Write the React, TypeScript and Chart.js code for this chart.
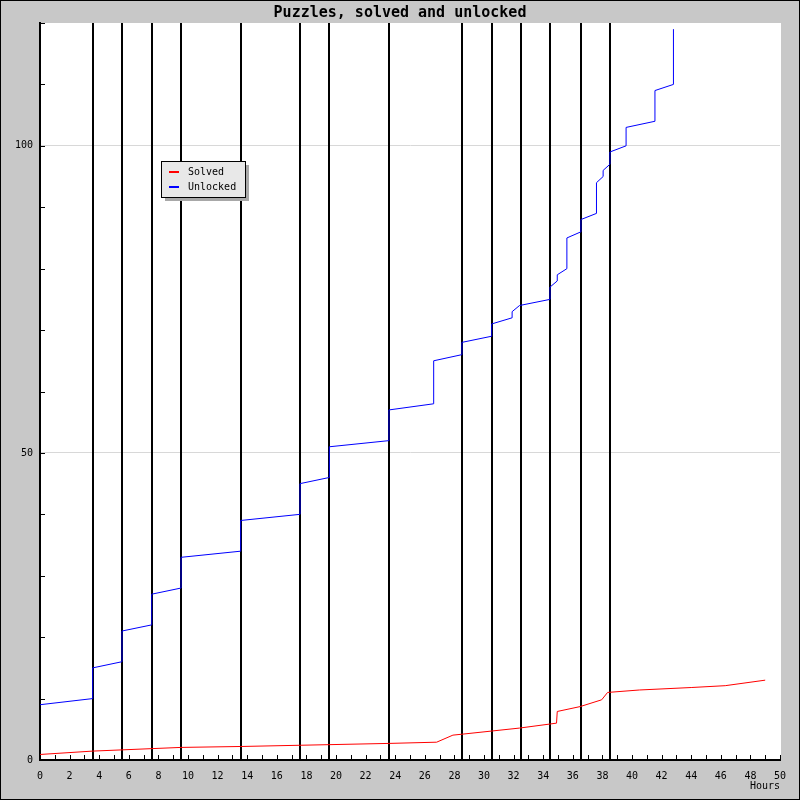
import React, { useEffect, useRef } from 'react';
import { Chart, registerables } from 'chart.js';

Chart.register(...registerables);

const chartTitle = 'Puzzles, solved and unlocked';
const xAxisTitle = 'Hours';
const seriesLabels = ['Solved', 'Unlocked'];
const seriesColors = ['#ff0000', '#0000ff'];

const solvedHours = [0, 3.56, 9.53, 13.56, 23.58, 26.8, 27.9, 28.51, 32.4, 34.9, 34.95, 36.5, 37.95, 38.35, 40.5, 44, 46.3, 49];
const solvedCounts = [0.9, 1.45, 2.05, 2.2, 2.7, 2.9, 4.05, 4.2, 5.2, 6.0, 7.9, 8.7, 9.8, 11.0, 11.4, 11.8, 12.1, 13.0];

const unlockedHours = [0, 3.56, 3.56, 5.54, 5.54, 7.55, 7.55, 9.53, 9.53, 13.56, 13.56, 17.57, 17.57, 19.55, 19.55, 23.58, 23.58, 26.6, 26.6, 28.51, 28.51, 30.52, 30.52, 31.9, 31.9, 32.4, 34.46, 34.46, 34.95, 34.95, 35.6, 35.6, 36.55, 36.55, 37.6, 37.6, 38.05, 38.05, 38.51, 38.51, 39.6, 39.6, 41.55, 41.55, 42.8, 42.8];
const unlockedCounts = [9, 10, 15, 16, 21, 22, 27, 28, 33, 34, 39, 40, 45, 46, 51, 52, 57, 58, 65, 66, 68, 69, 71, 72, 73, 74, 75, 77, 78, 79, 80, 85, 86, 88, 89, 94, 95, 96, 97, 99, 100, 103, 104, 109, 110, 119];

const eventHours = [3.56, 5.54, 7.55, 9.53, 13.56, 17.57, 19.55, 23.58, 28.51, 30.52, 32.48, 34.46, 36.55, 38.51];

const xMin = 0;
const xMax = 50;
const xStep = 1;
const xLabelEvery = 2;
const yMin = 0;
const yMax = 120;
const yStep = 10;
const yLabelValues = [0, 50, 100];
const yGridValues = [50, 100];

const mono = 'DejaVu Sans Mono, Liberation Mono, monospace';

const decorPlugin = {
  id: 'decor',
  beforeDraw(chart: any) {
    const { ctx, width, height, chartArea: a } = chart;
    ctx.save();
    ctx.fillStyle = '#c8c8c8';
    ctx.fillRect(0, 0, width, height);
    ctx.strokeStyle = '#000';
    ctx.lineWidth = 1;
    ctx.strokeRect(0.5, 0.5, width - 1, height - 1);
    ctx.fillStyle = '#ffffff';
    ctx.fillRect(a.left, a.top, a.right - a.left + 1, a.bottom - a.top);
    ctx.restore();
  },
  beforeDatasetsDraw(chart: any) {
    const { ctx, chartArea: a, scales } = chart;
    const xs = scales.x;
    const ys = scales.y;
    ctx.save();
    ctx.strokeStyle = '#000';
    ctx.lineWidth = 2;
    for (const h of eventHours) {
      const px = Math.round(xs.getPixelForValue(h));
      ctx.beginPath();
      ctx.moveTo(px, a.top);
      ctx.lineTo(px, a.bottom);
      ctx.stroke();
    }
    ctx.lineWidth = 1;
    for (const t of xs.ticks) {
      const px = Math.round(xs.getPixelForValue(t.value)) + 0.5;
      ctx.beginPath();
      ctx.moveTo(px, a.bottom);
      ctx.lineTo(px, a.bottom - 5);
      ctx.stroke();
    }
    for (const t of ys.ticks) {
      const py = Math.round(ys.getPixelForValue(t.value)) + 0.5;
      ctx.beginPath();
      ctx.moveTo(a.left, py);
      ctx.lineTo(a.left + 5, py);
      ctx.stroke();
    }
    ctx.restore();
  },
  afterDraw(chart: any) {
    const { ctx, chartArea: a } = chart;
    const lx = a.left + 121;
    const ly = a.top + 138;
    const lw = 84;
    const lh = 36;
    ctx.save();
    ctx.fillStyle = '#a8a8a8';
    ctx.fillRect(lx + 4, ly + 4, lw, lh);
    ctx.fillStyle = '#e8e8e8';
    ctx.fillRect(lx, ly, lw, lh);
    ctx.strokeStyle = '#000';
    ctx.lineWidth = 1;
    ctx.strokeRect(lx + 0.5, ly + 0.5, lw, lh);
    ctx.font = `10px ${mono}`;
    ctx.textBaseline = 'middle';
    ctx.textAlign = 'left';
    chart.data.datasets.forEach((ds: any, i: number) => {
      const cy = ly + 11 + i * 15;
      ctx.fillStyle = ds.borderColor;
      ctx.fillRect(lx + 8, cy - 1, 10, 2);
      ctx.fillStyle = '#000';
      ctx.fillText(ds.label, lx + 27, cy);
    });
    ctx.restore();
  },
};

export default function App() {
  const ref = useRef<HTMLCanvasElement | null>(null);

  useEffect(() => {
    document.body.style.margin = '0';
    const canvas = ref.current;
    if (!canvas) return;
    const toPoints = (xs: number[], ys: number[]) => xs.map((x, i) => ({ x, y: ys[i] }));
    const chart = new Chart(canvas, {
      type: 'line',
      data: {
        datasets: [
          {
            label: seriesLabels[0],
            data: toPoints(solvedHours, solvedCounts),
            borderColor: seriesColors[0],
            backgroundColor: seriesColors[0],
            borderWidth: 1,
            pointRadius: 0,
            tension: 0,
            fill: false,
          },
          {
            label: seriesLabels[1],
            data: toPoints(unlockedHours, unlockedCounts),
            borderColor: seriesColors[1],
            backgroundColor: seriesColors[1],
            borderWidth: 1,
            pointRadius: 0,
            tension: 0,
            fill: false,
          },
        ],
      },
      options: {
        animation: false,
        responsive: false,
        devicePixelRatio: 1,
        layout: { padding: { left: 0, right: 0, top: 0, bottom: 0 } },
        plugins: {
          legend: { display: false },
          tooltip: { enabled: false },
          title: {
            display: true,
            text: chartTitle,
            color: '#000',
            font: { family: mono, size: 15, weight: 'bold', lineHeight: 1.2 },
            padding: { top: 4, bottom: 1 },
          },
        },
        scales: {
          x: {
            type: 'linear',
            min: xMin,
            max: xMax,
            afterFit(s: any) {
              s.height = 40;
            },
            ticks: {
              stepSize: xStep,
              autoSkip: false,
              maxRotation: 0,
              padding: 10,
              color: '#000',
              font: { family: mono, size: 10 },
              callback: (v: any) => (Number(v) % xLabelEvery === 0 ? String(v) : ''),
            },
            grid: { display: true, drawTicks: false, color: 'rgba(0,0,0,0)' },
            border: { display: true, color: '#000', width: 2 },
            title: {
              display: true,
              text: xAxisTitle,
              align: 'end',
              color: '#000',
              font: { family: mono, size: 10 },
              padding: { top: 0, bottom: 8 },
            },
          },
          y: {
            type: 'linear',
            position: 'left',
            min: yMin,
            max: yMax,
            afterFit(s: any) {
              s.width = 40;
            },
            ticks: {
              stepSize: yStep,
              autoSkip: false,
              padding: 7,
              color: '#000',
              font: { family: mono, size: 10 },
              callback: (v: any) => (yLabelValues.includes(Number(v)) ? String(v) : ''),
            },
            grid: {
              drawTicks: false,
              lineWidth: 1,
              color: (c: any) => (c.tick && yGridValues.includes(c.tick.value) ? '#d8d8d8' : 'rgba(0,0,0,0)'),
            },
            border: { display: true, color: '#000', width: 2 },
          },
          yRightSpacer: {
            type: 'linear',
            position: 'right',
            min: yMin,
            max: yMax,
            afterFit(s: any) {
              s.width = 20;
            },
            ticks: { display: false },
            grid: { display: false, drawTicks: false },
            border: { display: false },
          },
        },
      } as any,
      plugins: [decorPlugin],
    });
    return () => chart.destroy();
  }, []);

  return (
    <div style={{ width: 800, height: 800 }}>
      <canvas ref={ref} width={800} height={800} style={{ display: 'block' }} />
    </div>
  );
}
